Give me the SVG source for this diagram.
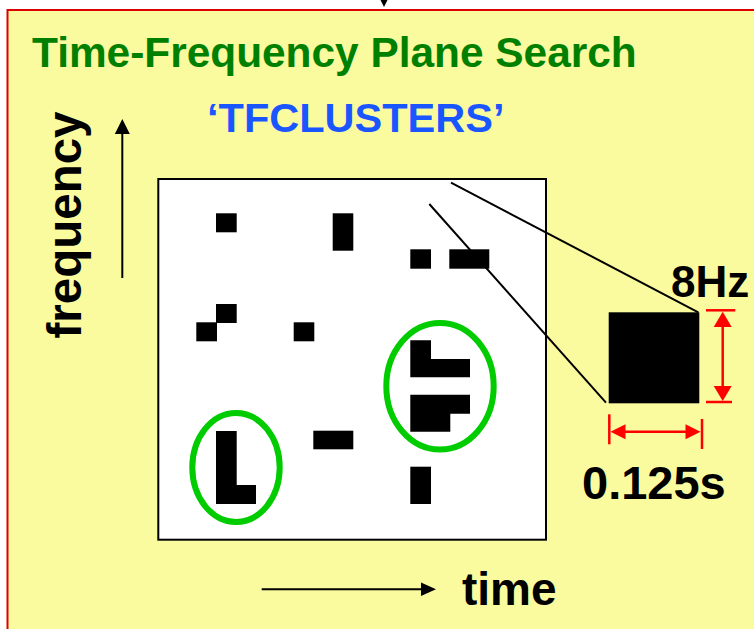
<svg xmlns="http://www.w3.org/2000/svg" width="754" height="629" viewBox="0 0 754 629">
  <defs>
    <style>
      .lbl { font-family: "Liberation Sans", Arial, sans-serif; font-weight: bold; }
      .blk { fill: #000; }
      .ring { fill: none; stroke: #00cc00; stroke-width: 6; }
      .dim { stroke: #ff0000; stroke-width: 2.5; fill: none; }
      .dimhead { fill: #ff0000; }
      .conn { stroke: #000; stroke-width: 2; fill: none; }
    </style>
  </defs>
  <rect x="0" y="0" width="754" height="629" fill="#ffffff"/>
  <g id="frame">
    <rect x="7.5" y="10" width="800" height="700" fill="#fafa9e" stroke="#dd0000" stroke-width="2"/>
    <polygon points="380.5,0 387.5,0 384,7" fill="#000"/>
  </g>
  <g id="title">
    <text class="lbl" x="32" y="67" font-size="42.4" fill="#008000">Time-Frequency Plane Search</text>
  </g>
  <g id="subtitle">
    <text class="lbl" x="207" y="132" font-size="41.5" fill="#1a56ff">‘TFCLUSTERS’</text>
  </g>
  <g id="freq-axis">
    <text class="lbl" font-size="47.5" fill="#000" text-anchor="middle" transform="translate(81,225) rotate(-90)">frequency</text>
    <line class="conn" x1="122.3" y1="278" x2="122.3" y2="132"/>
    <polygon points="122.3,119 114.8,134 129.8,134" fill="#000"/>
  </g>
  <g id="time-axis">
    <line class="conn" x1="261.7" y1="589.3" x2="423" y2="589.3"/>
    <polygon points="436,589.3 421,582.6 421,596" fill="#000"/>
    <text class="lbl" x="462" y="605" font-size="46" fill="#000">time</text>
  </g>
  <g id="tf-plane">
    <rect x="158.3" y="179" width="387.7" height="360.7" fill="#ffffff" stroke="#000" stroke-width="2"/>
    <rect class="blk" x="216" y="213.3" width="20.7" height="19"/>
    <rect class="blk" x="332.7" y="213.3" width="20.6" height="37.4"/>
    <rect class="blk" x="410.3" y="249.3" width="20.7" height="19.4"/>
    <rect class="blk" x="449.3" y="249.3" width="40" height="19.4"/>
    <rect class="blk" x="216" y="304" width="20.7" height="19"/>
    <rect class="blk" x="196.3" y="322.3" width="20.7" height="19"/>
    <rect class="blk" x="293.7" y="322.3" width="20.6" height="19"/>
    <path class="blk" d="M410.3,340.3 H431 V359 H470 V377.3 H410.3 Z"/>
    <path class="blk" d="M410.3,394.7 H470 V413.7 H450.3 V431.7 H410.3 Z"/>
    <path class="blk" d="M216,431 H236.7 V485 H256 V504 H216 Z"/>
    <rect class="blk" x="313.3" y="430.7" width="40" height="18.6"/>
    <rect class="blk" x="410.3" y="466.7" width="20.7" height="37.3"/>
  </g>
  <g id="clusters">
    <ellipse class="ring" cx="440" cy="386.3" rx="53.7" ry="63.3"/>
    <ellipse class="ring" cx="236" cy="467.5" rx="43.7" ry="54.5"/>
  </g>
  <g id="connectors">
    <line class="conn" x1="451" y1="182.7" x2="698.3" y2="312.3"/>
    <line class="conn" x1="429.3" y1="204" x2="606" y2="402.7"/>
  </g>
  <g id="tile">
    <rect x="608.7" y="312.3" width="90.6" height="91" fill="#000"/>
  </g>
  <g id="dim-freq">
    <line class="dim" x1="706" y1="310.3" x2="735.3" y2="310.3"/>
    <line class="dim" x1="706" y1="402" x2="732" y2="402"/>
    <line class="dim" x1="722.7" y1="325" x2="722.7" y2="388"/>
    <polygon class="dimhead" points="722.7,311.7 713.7,327 731.7,327"/>
    <polygon class="dimhead" points="722.7,401 713.7,386 731.7,386"/>
    <text class="lbl" x="671" y="297" font-size="44" fill="#000">8Hz</text>
  </g>
  <g id="dim-time">
    <line class="dim" x1="609.3" y1="414.3" x2="609.3" y2="444.3"/>
    <line class="dim" x1="702" y1="419" x2="702" y2="449"/>
    <line class="dim" x1="622" y1="431.7" x2="689" y2="431.7"/>
    <polygon class="dimhead" points="610.5,431.7 625.5,424.2 625.5,439.2"/>
    <polygon class="dimhead" points="700.5,431.7 685.5,424.2 685.5,439.2"/>
    <text class="lbl" x="582" y="498.5" font-size="47" fill="#000">0.125s</text>
  </g>
</svg>
